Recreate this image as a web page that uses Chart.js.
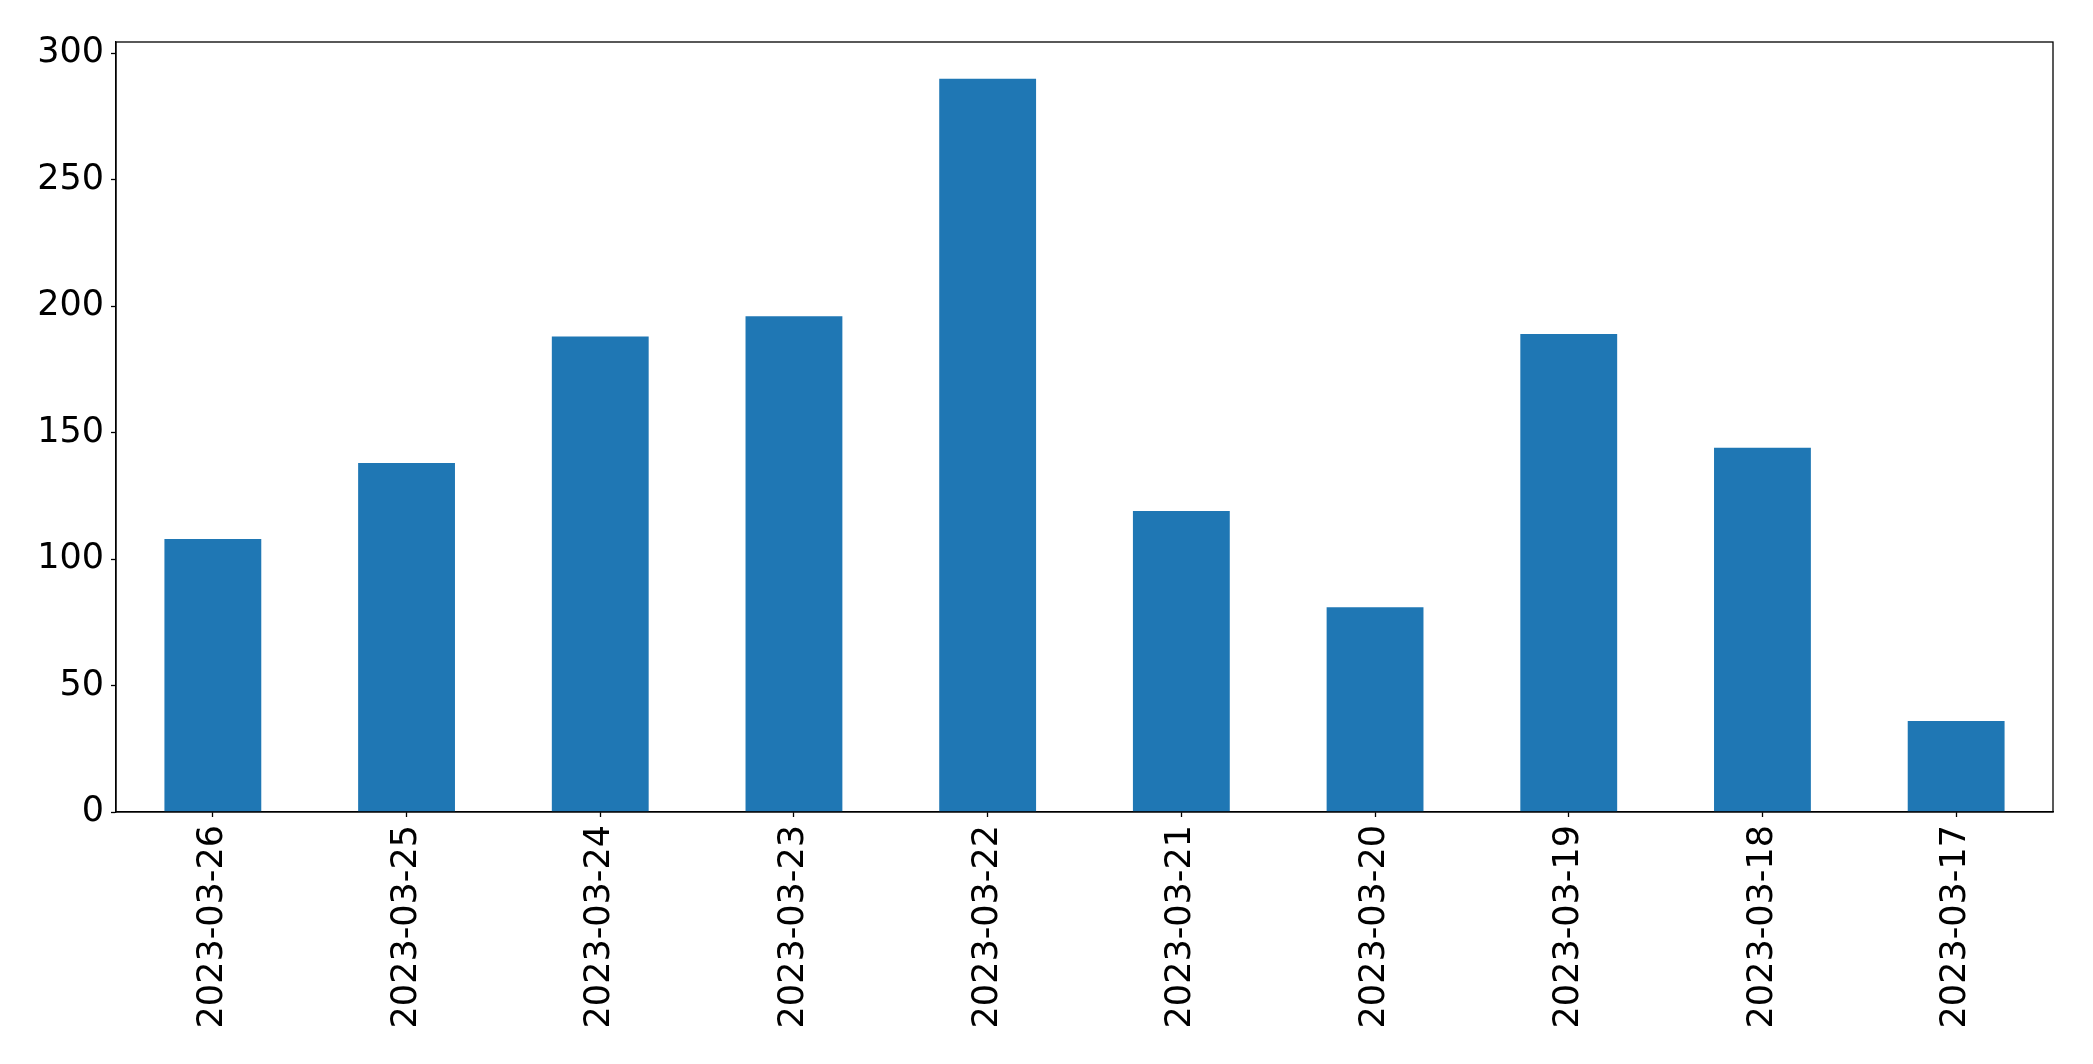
<!DOCTYPE html>
<html>
<head>
<meta charset="utf-8">
<script src="https://cdn.jsdelivr.net/npm/chart.js@4/dist/chart.umd.min.js"></script>
<style>
html,body{margin:0;padding:0;background:#fff;}
canvas{display:block;}
</style>
</head>
<body>
<canvas id="c" width="2093" height="1064"></canvas>
<script>
const categories = ["2023-03-26","2023-03-25","2023-03-24","2023-03-23","2023-03-22","2023-03-21","2023-03-20","2023-03-19","2023-03-18","2023-03-17"];
const values = [108, 138, 188, 196, 290, 119, 81, 189, 144, 36];
const yTicks = [0, 50, 100, 150, 200, 250, 300];

const frame = {
  id: 'frame',
  afterDraw(chart) {
    const {ctx, chartArea: a} = chart;
    ctx.save();
    ctx.strokeStyle = '#000';
    ctx.lineWidth = 1.3;
    ctx.strokeRect(a.left, a.top, a.right - a.left, a.bottom - a.top);
    ctx.restore();
  }
};

new Chart(document.getElementById('c'), {
  type: 'bar',
  data: {
    labels: categories,
    datasets: [{
      data: values,
      backgroundColor: '#1f77b4',
      borderWidth: 0,
      categoryPercentage: 1.0,
      barPercentage: 0.5
    }]
  },
  options: {
    responsive: false,
    animation: false,
    devicePixelRatio: 1,
    layout: { padding: { top: 42, right: 40, left: 0, bottom: 0 } },
    plugins: { legend: { display: false }, tooltip: { enabled: false } },
    scales: {
      x: {
        afterFit(s) { s.height = 252; },
        grid: { display: true, offset: false, drawOnChartArea: false, drawTicks: true, tickLength: 5, tickColor: '#000', tickWidth: 1.3 },
        border: { display: true, color: '#000', width: 1.3 },
        ticks: {
          color: '#000',
          font: { family: 'DejaVu Sans', size: 35 },
          minRotation: 90, maxRotation: 90,
          padding: 8
        }
      },
      y: {
        min: 0,
        max: 304.5,
        afterFit(s) { s.width = 116; },
        afterBuildTicks(s) { s.ticks = yTicks.map(v => ({ value: v })); },
        grid: { display: true, drawOnChartArea: false, drawTicks: true, tickLength: 5, tickColor: '#000', tickWidth: 1.3 },
        border: { display: true, color: '#000', width: 1.3 },
        ticks: {
          color: '#000',
          font: { family: 'DejaVu Sans', size: 35 },
          padding: 7
        }
      }
    }
  },
  plugins: [frame]
});
</script>
</body>
</html>
